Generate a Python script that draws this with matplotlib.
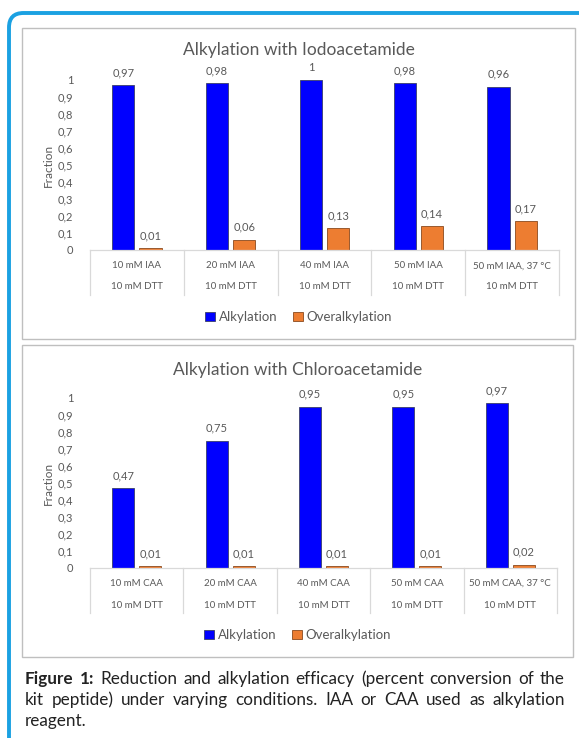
import matplotlib
matplotlib.use('Agg')
import matplotlib.pyplot as plt
import matplotlib.transforms as mtransforms
from matplotlib.patches import FancyBboxPatch, Rectangle, Patch
from matplotlib.ticker import FuncFormatter
import numpy as np

plt.rcParams['font.family'] = ['Lato', 'DejaVu Sans']

W, H = 579, 738

# ---- data ----
iaa_conditions = ['10 mM IAA', '20 mM IAA', '40 mM IAA', '50 mM IAA', '50 mM IAA, 37 °C']
iaa_alkylation = [0.97, 0.98, 1.0, 0.98, 0.96]
iaa_overalkylation = [0.01, 0.06, 0.13, 0.14, 0.17]

caa_conditions = ['10 mM CAA', '20 mM CAA', '40 mM CAA', '50 mM CAA', '50 mM CAA, 37 °C']
caa_alkylation = [0.47, 0.75, 0.95, 0.95, 0.97]
caa_overalkylation = [0.01, 0.01, 0.01, 0.01, 0.02]

reductant = ['10 mM DTT'] * 5
y_ticks = [0, 0.1, 0.2, 0.3, 0.4, 0.5, 0.6, 0.7, 0.8, 0.9, 1.0]

BLUE = '#0000FF'
ORANGE = '#ED7D31'
GRAY = '#595959'
LINE = '#D9D9D9'


def comma(v, pos=None):
    return f'{v:g}'.replace('.', ',')


def px_axes(left, top, right, bottom):
    return [left / W, 1 - bottom / H, (right - left) / W, (bottom - top) / H]


def draw_chart(fig, panel, axbox, title, title_y, conds, alk, over, row1, row2, line_bottom, legend_y):
    # panel frame
    l, t, r, b = panel
    fig.patches.append(Rectangle((l / W, 1 - b / H), (r - l) / W, (b - t) / H,
                                 transform=fig.transFigure, fill=False,
                                 edgecolor='#BFBFBF', lw=1.0))
    ax = fig.add_axes(px_axes(*axbox))
    x = np.arange(len(conds))
    w = 0.235
    off = 0.145
    b1 = ax.bar(x - off, alk, w, color=BLUE, edgecolor='#3A3F6A', lw=0.6, label='Alkylation')
    b2 = ax.bar(x + off, over, w, color=ORANGE, edgecolor='#8A4A1E', lw=0.6, label='Overalkylation')
    for bars, vals in ((b1, alk), (b2, over)):
        for rect, v in zip(bars, vals):
            ax.annotate(comma(v), (rect.get_x() + rect.get_width() / 2, v),
                        xytext=(0, 5), textcoords='offset points',
                        ha='center', va='bottom', fontsize=8, color=GRAY)
    ax.set_xlim(-0.5, len(conds) - 0.5)
    ax.set_ylim(0, 1)
    ax.set_yticks(y_ticks)
    ax.yaxis.set_major_formatter(FuncFormatter(comma))
    ax.tick_params(axis='y', length=0, labelsize=8, labelcolor=GRAY, pad=12)
    ax.set_xticks([])
    for s in ax.spines.values():
        s.set_visible(False)
    ax.set_ylabel('Fraction', fontsize=8.5, color=GRAY, labelpad=3)

    # category table below axis
    axb = axbox[3]
    h = axbox[3] - axbox[1]
    trans = mtransforms.blended_transform_factory(ax.transData, ax.transAxes)
    ax.plot([-0.5, len(conds) - 0.5], [0, 0], color=LINE, lw=0.9, transform=trans, clip_on=False)
    yb = -(line_bottom - axb) / h
    for xb in np.arange(-0.5, len(conds), 1.0):
        ax.plot([xb, xb], [0, yb], color=LINE, lw=0.9, transform=trans, clip_on=False)
    for i in range(len(conds)):
        ax.text(i, -(row1 - axb) / h, conds[i], transform=trans, ha='center', va='center',
                fontsize=7, color=GRAY)
        ax.text(i, -(row2 - axb) / h, reductant[i], transform=trans, ha='center', va='center',
                fontsize=7, color=GRAY)

    fig.text((l + r) / 2 / W, 1 - title_y / H, title, ha='center', va='center',
             fontsize=12.5, color=GRAY)
    fig.legend(handles=[Patch(facecolor=BLUE, edgecolor='#3A3F6A', lw=0.6, label='Alkylation'),
                        Patch(facecolor=ORANGE, edgecolor='#8A4A1E', lw=0.6, label='Overalkylation')],
               loc='center', bbox_to_anchor=((l + r) / 2 / W, 1 - legend_y / H),
               ncol=2, frameon=False, fontsize=9.5, handlelength=0.75, handleheight=0.75,
               handletextpad=0.3, columnspacing=1.2, labelcolor=GRAY)
    return ax


fig = plt.figure(figsize=(W / 100, H / 100), dpi=100)

# outer rounded blue frame
fig.patches.append(FancyBboxPatch((9 / W, -20 / H), 600 / W, (H - 13 + 20) / H,
                                  boxstyle='round,pad=0,rounding_size=0.025',
                                  transform=fig.transFigure, fill=False,
                                  edgecolor='#1BA1E2', lw=2.8, mutation_aspect=W / H))

draw_chart(fig, (22, 28, 575, 339), (90, 80, 559, 250), 'Alkylation with Iodoacetamide', 50,
           iaa_conditions, iaa_alkylation, iaa_overalkylation, 266, 287, 295, 317)
draw_chart(fig, (22, 345, 573, 657), (90, 398, 557, 568), 'Alkylation with Chloroacetamide', 370,
           caa_conditions, caa_alkylation, caa_overalkylation, 583, 606, 613, 635)

# caption, justified lines
caption_lines = [
    [('Figure', True), ('1:', True), ('Reduction', False), ('and', False), ('alkylation', False),
     ('efficacy', False), ('(percent', False), ('conversion', False), ('of', False), ('the', False)],
    [('kit', False), ('peptide)', False), ('under', False), ('varying', False), ('conditions.', False),
     ('IAA', False), ('or', False), ('CAA', False), ('used', False), ('as', False),
     ('alkylation', False)],
    [('reagent.', False)],
]
cap_left, cap_right = 25, 565
cap_y = [679, 700, 721]
renderer = fig.canvas.get_renderer()
for li, words in enumerate(caption_lines):
    texts = [fig.text(0, 1 - cap_y[li] / H, wd, fontsize=12.3, color='#222222',
                      fontweight='bold' if bold else 'normal', va='center', ha='left')
             for wd, bold in words]
    widths = [t.get_window_extent(renderer).width for t in texts]
    if li < len(caption_lines) - 1 and len(words) > 1:
        gap = (cap_right - cap_left - sum(widths)) / (len(words) - 1)
    else:
        gap = 4
    xpos = cap_left
    for t, wdt in zip(texts, widths):
        t.set_x(xpos / W)
        xpos += wdt + gap

fig.savefig('out.png', dpi=100)
